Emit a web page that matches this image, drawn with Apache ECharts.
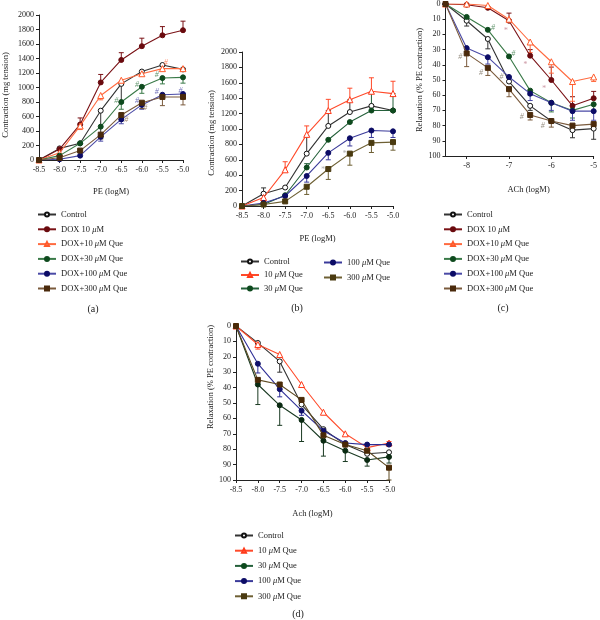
<!DOCTYPE html>
<html><head><meta charset="utf-8">
<script src="https://cdn.jsdelivr.net/npm/echarts@6/dist/echarts.min.js"></script>
<style>html,body{margin:0;padding:0;background:#fff}#c{width:600px;height:620px}</style>
</head><body><div id="c"></div>
<script>
// ---------- DATA ----------
const xVals = [-8.5, -8.0, -7.5, -7.0, -6.5, -6.0, -5.5, -5.0];
const xTicksC = [-8, -7, -6, -5];
const namesDox = ['Control', 'DOX 10 μM', 'DOX+10 μM Que', 'DOX+30 μM Que', 'DOX+100 μM Que', 'DOX+300 μM Que'];
const namesQue = ['Control', '10 μM Que', '30 μM Que', '100 μM Que', '300 μM Que'];

// (a) PE contraction, DOX groups (mg tension)
const aControl = [0, 160, 230, 680, 1050, 1220, 1310, 1250];
const aDox     = [0, 150, 490, 1070, 1380, 1570, 1720, 1790];
const aDox10   = [0, 100, 470, 890, 1100, 1190, 1260, 1260];
const aDox30   = [0, 60, 230, 460, 800, 1010, 1130, 1140];
const aDox100  = [0, 10, 60, 320, 560, 760, 900, 910];
const aDox300  = [0, 30, 130, 350, 620, 790, 870, 870];
const aErrControl = [0, 0, 0, -380, -250, 0, 0, 0];
const aErrDox     = [0, 0, 90, 110, 100, 110, 120, 125];
const aErrDox10   = [0, 0, -50, -60, 0, 0, 0, 0];
const aErrDox30   = [0, 0, 0, 0, -100, -90, -80, -80];
const aErrDox100  = [0, 0, 0, -60, -60, -60, 0, 0];
const aErrDox300  = [0, 0, 0, -60, -60, -80, -120, -110];

// (b) PE contraction, Que groups (mg tension)
const bControl = [0, 160, 240, 680, 1040, 1220, 1300, 1240];
const bQue10   = [0, 110, 470, 930, 1240, 1380, 1490, 1460];
const bQue30   = [0, 20, 140, 500, 860, 1090, 1240, 1240];
const bQue100  = [0, 40, 130, 390, 690, 880, 980, 970];
const bQue300  = [0, 20, 60, 250, 480, 680, 820, 830];
const bErrControl = [0, 75, 0, 230, 200, 160, 0, 0];
const bErrQue10   = [0, 0, 105, 110, 145, 150, 175, 160];
const bErrQue30   = [0, 0, 0, 50, 0, 0, 230, 220];
const bErrQue100  = [0, 0, 0, -80, -90, -100, -90, -80];
const bErrQue300  = [0, 0, 0, -100, -135, -150, -125, -105];

// (c) ACh relaxation, DOX groups (% PE contraction)
const cControl = [0, 11, 23, 51, 67, 77, 83, 82];
const cDox     = [0, 0.5, 2.5, 11, 34, 50, 67, 62];
const cDox10   = [0, 0, 1, 10, 25, 38, 51, 48];
const cDox30   = [0, 8.5, 17, 34.5, 57, 65, 70, 66];
const cDox100  = [0, 29, 35, 48, 59, 65, 70.5, 70.5];
const cDox300  = [0, 32.5, 42, 56, 73, 77, 80, 79];
const cErrControl = [0, 3.5, 6.5, 0, 3, 0, 5, 7];
const cErrDox     = [0, 0, 0, -5, -4, -8.5, -6, -4.5];
const cErrDox10   = [0, 0, 0, 0, 7, 7.5, 13, 3];
const cErrDox30   = [0, 0, 0, 0, 3, 6, 5, 4];
const cErrDox100  = [0, 0, 4.5, 3, 4.5, 5, 6, 6];
const cErrDox300  = [0, 8.7, 5, 5, 3.3, 4, 3, 3];

// (d) ACh relaxation, Que groups (% PE contraction)
const dControl = [0, 11, 23, 51, 67, 77, 83, 82];
const dQue10   = [0, 12, 18.5, 38, 56, 70, 79, 76];
const dQue30   = [0, 38, 51.5, 61, 74.5, 81, 87, 85];
const dQue100  = [0, 24.5, 41, 55, 68, 76, 77, 77];
const dQue300  = [0, 35, 38, 48, 71, 77, 81, 92];
const dErrControl = [0, 0, 7, 0, 0, 0, 0, 0];
const dErrQue10   = [0, 3, 0, 0, 0, 0, 3, -1];
const dErrQue30   = [0, 13, 13, 14, 10, 7, 4, 4];
const dErrQue100  = [0, 6, 5, 3, 0, 0, 0, 0];
const dErrQue300  = [0, 0, 0, 0, 0, 0, 0, 8];

// significance marks [x, y]
const aMarksHashOrange = [[-5.42, 1335], [-4.93, 1320]];
const aMarksHashGreen  = [[-6.62, 820], [-6.12, 1040], [-5.64, 1170]];
const aMarksHashBlue   = [[-6.12, 820], [-5.64, 940], [-5.06, 955]];
const aMarksHashBrown  = [[-6.38, 560], [-5.92, 720], [-4.93, 835]];
const aMarksStar       = [[-4.95, 1745]];
const bMarksStar       = [[-6.63, 470], [-6.13, 680]];
const cMarksHashGreen  = [[-7.38, 16], [-6.9, 33]];
const cMarksHashGray   = [[-8.15, 35], [-7.66, 45], [-7.18, 48], [-6.7, 74], [-6.2, 80]];
const cMarksStar       = [[-7.08, 18], [-6.62, 40], [-6.18, 56]];

// ---------- STYLE ----------
const FONT = 'Liberation Serif';
const styleDox = [
  {line: '#333333', fill: '#ffffff', border: '#111111', sym: 'circle'},
  {line: '#7a1216', fill: '#6a0a0e', border: '#6a0a0e', sym: 'circle'},
  {line: '#ff6b40', fill: '#ffffff', border: '#ff5a2a', sym: 'triangle'},
  {line: '#3a7a48', fill: '#0e4a1e', border: '#0e4a1e', sym: 'circle'},
  {line: '#4a4aa6', fill: '#0c0c66', border: '#0c0c66', sym: 'circle'},
  {line: '#7a5a3c', fill: '#4a2a0c', border: '#4a2a0c', sym: 'rect'}
];
const styleQueB = [
  {line: '#333333', fill: '#ffffff', border: '#111111', sym: 'circle'},
  {line: '#ff4a2a', fill: '#ffffff', border: '#ff3a1a', sym: 'triangle'},
  {line: '#24603a', fill: '#0e4a1e', border: '#0e4a1e', sym: 'circle'},
  {line: '#3a3a9a', fill: '#0c0c66', border: '#0c0c66', sym: 'circle'},
  {line: '#6e6034', fill: '#4a3a10', border: '#4a3a10', sym: 'rect'}
];
const styleQueD = [
  {line: '#333333', fill: '#ffffff', border: '#111111', sym: 'circle'},
  {line: '#ff4a2a', fill: '#ffffff', border: '#ff3a1a', sym: 'triangle'},
  {line: '#1a3a22', fill: '#0a2a12', border: '#0a2a12', sym: 'circle'},
  {line: '#2e2e96', fill: '#10106a', border: '#10106a', sym: 'circle'},
  {line: '#5e4a22', fill: '#4a2a08', border: '#4a2a08', sym: 'rect'}
];

const series = [];
function addPanel(idx, names, vals, errs, styles) {
  names.forEach((nm, i) => {
    const st = styles[i];
    series.push({
      name: nm, type: 'line', xAxisIndex: idx, yAxisIndex: idx,
      data: xVals.map((x, k) => [x, vals[i][k]]),
      symbol: st.sym, symbolSize: st.sym === 'triangle' ? 6 : 5,
      lineStyle: {color: st.line, width: 1.1},
      itemStyle: {color: st.fill, borderColor: st.border, borderWidth: 1},
      z: 3 + i, animation: false
    });
    series.push({
      name: 'err' + idx + '_' + i, type: 'custom', xAxisIndex: idx, yAxisIndex: idx,
      data: xVals.map((x, k) => [x, vals[i][k], errs[i][k]]),
      encode: {x: 0, y: 1}, z: 2, animation: false, silent: true,
      renderItem: (params, api) => {
        const e = api.value(2);
        if (!e) return null;
        const p0 = api.coord([api.value(0), api.value(1)]);
        const p1 = api.coord([api.value(0), api.value(1) + e]);
        const w = 2.5;
        return {type: 'group', children: [
          {type: 'line', shape: {x1: p0[0], y1: p0[1], x2: p1[0], y2: p1[1]}, style: {stroke: st.line, lineWidth: 1}},
          {type: 'line', shape: {x1: p1[0] - w, y1: p1[1], x2: p1[0] + w, y2: p1[1]}, style: {stroke: st.line, lineWidth: 1}}
        ]};
      }
    });
  });
}
addPanel(0, namesDox, [aControl, aDox, aDox10, aDox30, aDox100, aDox300],
  [aErrControl, aErrDox, aErrDox10, aErrDox30, aErrDox100, aErrDox300], styleDox);
addPanel(1, namesQue, [bControl, bQue10, bQue30, bQue100, bQue300],
  [bErrControl, bErrQue10, bErrQue30, bErrQue100, bErrQue300], styleQueB);
addPanel(2, namesDox, [cControl, cDox, cDox10, cDox30, cDox100, cDox300],
  [cErrControl, cErrDox, cErrDox10, cErrDox30, cErrDox100, cErrDox300], styleDox);
addPanel(3, namesQue, [dControl, dQue10, dQue30, dQue100, dQue300],
  [dErrControl, dErrQue10, dErrQue30, dErrQue100, dErrQue300], styleQueD);

function addMarks(idx, pts, text, color) {
  series.push({
    name: 'mark' + idx + text + color, type: 'scatter', xAxisIndex: idx, yAxisIndex: idx,
    data: pts, symbolSize: 1, itemStyle: {color: 'rgba(0,0,0,0)'}, silent: true, z: 10, animation: false,
    label: {show: true, position: 'inside', formatter: text, color: color, fontFamily: FONT, fontSize: 8, fontStyle: 'italic'}
  });
}
addMarks(0, aMarksHashOrange, '#', '#ff6b40');
addMarks(0, aMarksHashGreen, '#', '#3a7a48');
addMarks(0, aMarksHashBlue, '#', '#4a4aa6');
addMarks(0, aMarksHashBrown, '#', '#8a6a4c');
addMarks(0, aMarksStar, '*', '#b07080');
addMarks(1, bMarksStar, '*', '#999999');
addMarks(2, cMarksHashGreen, '#', '#3a7a48');
addMarks(2, cMarksHashGray, '#', '#7a7060');
addMarks(2, cMarksStar, '*', '#c08090');

const grids = [
  {left: 39, top: 15, width: 144, height: 145},
  {left: 242, top: 52, width: 151, height: 154},
  {left: 445.5, top: 3, width: 153, height: 153},
  {left: 236, top: 326, width: 153, height: 154}
];
const lbl = {fontFamily: FONT, fontSize: 8, color: '#222'};
const nameStyle = {fontFamily: FONT, fontSize: 8.5, color: '#222'};
const axLine = {show: true, onZero: false, lineStyle: {color: '#222', width: 1}};
const axTick = {show: true, length: 3, lineStyle: {color: '#222'}};

function xAx(idx, name, gap, pad, custom) {
  const ax = {
    type: 'value', gridIndex: idx, min: -8.5, max: -5, interval: 0.5,
    name: name, nameLocation: 'middle', nameGap: gap,
    nameTextStyle: Object.assign({}, nameStyle, {padding: pad}),
    axisLine: axLine, axisTick: Object.assign({}, axTick), splitLine: {show: false},
    axisLabel: Object.assign({}, lbl, {margin: 6, formatter: v => v.toFixed(1)})
  };
  if (custom) {
    ax.axisLabel = Object.assign({}, lbl, {margin: 6, customValues: custom, formatter: v => String(Math.round(v))});
    ax.axisTick = Object.assign({}, axTick, {customValues: custom});
  }
  return ax;
}
function yAx(idx, name, gap, max, interval, inverse, pad) {
  return {
    type: 'value', gridIndex: idx, min: 0, max: max, interval: interval, inverse: inverse,
    name: name, nameLocation: 'middle', nameGap: gap,
    nameTextStyle: Object.assign({}, nameStyle, {padding: pad}),
    axisLine: axLine, axisTick: axTick, splitLine: {show: false},
    axisLabel: Object.assign({}, lbl, {margin: 5, formatter: v => String(v)})
  };
}

const richLeg = {i: {fontFamily: FONT, fontSize: 8.5, fontStyle: 'italic', color: '#222'}};
function legend(left, top, data, gap) {
  return {
    left: left, top: top, orient: 'vertical', padding: 0, itemGap: gap,
    itemWidth: 18, itemHeight: 5, data: data, selectedMode: false,
    textStyle: {fontFamily: FONT, fontSize: 8.5, color: '#222', rich: richLeg},
    formatter: n => n.replace('μ', '{i|μ}')
  };
}

const option = {
  animation: false,
  backgroundColor: '#ffffff',
  grid: grids,
  xAxis: [
    xAx(0, 'PE (logM)', 27, [0, 0, 0, 0]),
    xAx(1, 'PE (logM)', 28, [0, 0, 0, 0]),
    xAx(2, 'ACh (logM)', 29, [0, 0, 0, 18], xTicksC),
    xAx(3, 'Ach (logM)', 29, [0, 0, 0, 0])
  ],
  yAxis: [
    yAx(0, 'Contraction (mg tension)', 29, 2000, 200, false, [0, 15, 0, 0]),
    yAx(1, 'Contraction (mg tension)', 26, 2000, 200, false, [0, 8, 0, 0]),
    yAx(2, 'Relaxation (% PE contraction)', 19, 100, 10, true, [0, 0, 0, 0]),
    yAx(3, 'Relaxation (% PE contraction)', 21, 100, 10, true, [0, 0, 0, 52])
  ],
  legend: [
    legend(37, 210, namesDox, 5.8),
    legend(240, 257, namesQue.slice(0, 3), 4.5),
    legend(323, 258, namesQue.slice(3), 6),
    legend(443, 210, namesDox, 5.8),
    legend(234, 531, namesQue, 6.2)
  ],
  graphic: [
    {type: 'text', x: 93, y: 309, style: {text: '(a)', font: '10px "Liberation Serif"', fill: '#222', textAlign: 'center', textVerticalAlign: 'middle'}},
    {type: 'text', x: 297, y: 308, style: {text: '(b)', font: '10px "Liberation Serif"', fill: '#222', textAlign: 'center', textVerticalAlign: 'middle'}},
    {type: 'text', x: 503, y: 308, style: {text: '(c)', font: '10px "Liberation Serif"', fill: '#222', textAlign: 'center', textVerticalAlign: 'middle'}},
    {type: 'text', x: 298, y: 614, style: {text: '(d)', font: '10px "Liberation Serif"', fill: '#222', textAlign: 'center', textVerticalAlign: 'middle'}}
  ],
  series: series
};
const chart = echarts.init(document.getElementById('c'), null, {renderer: 'canvas'});
chart.setOption(option);
</script></body></html>
